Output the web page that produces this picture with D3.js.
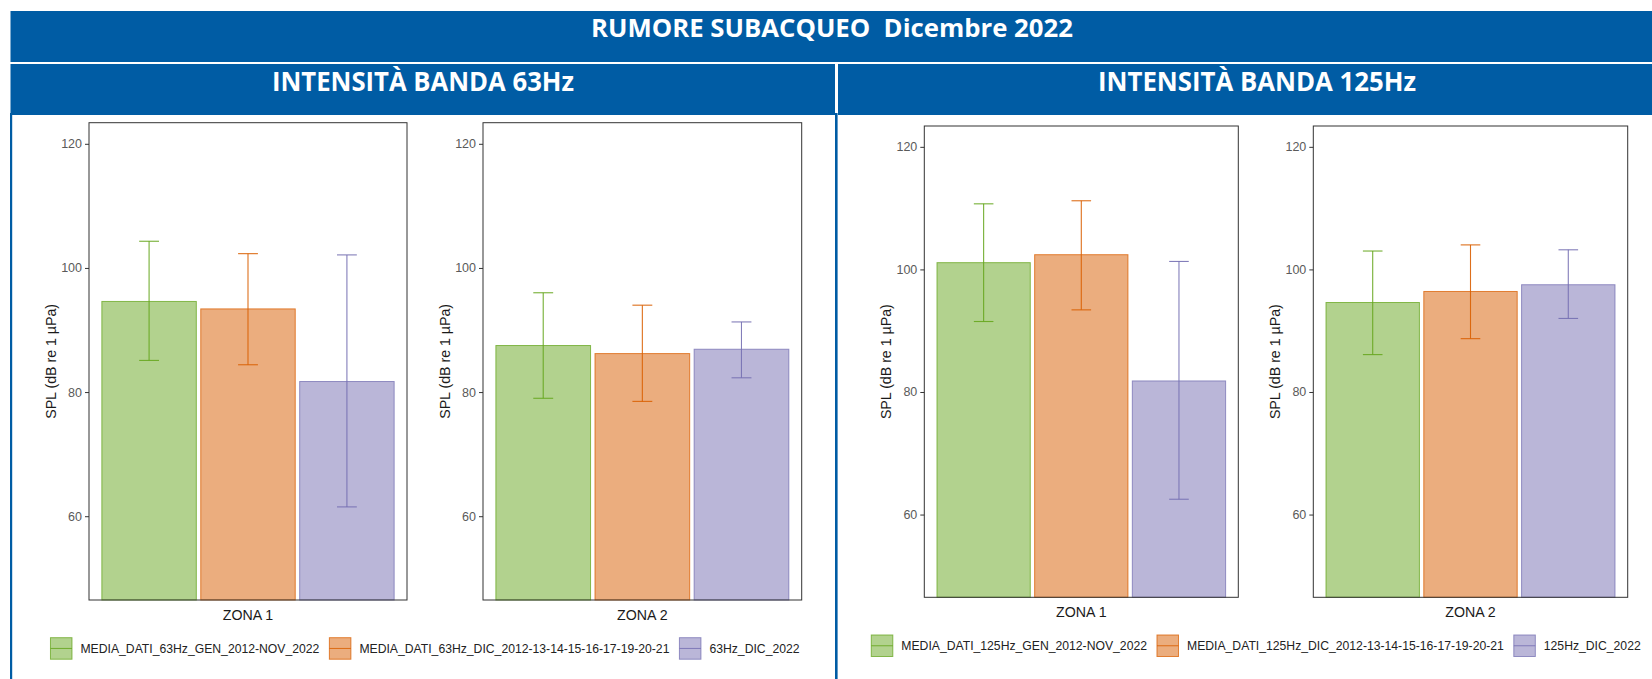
<!DOCTYPE html>
<html>
<head>
<meta charset="utf-8">
<script src="https://cdn.jsdelivr.net/npm/d3@7"></script>
<style>
  body { margin: 0; background: #fff; }
  svg { display: block; }
</style>
</head>
<body>
<svg id="chart" width="1652" height="679"></svg>
<script>
// ---- data ----
const zones = ['ZONA 1', 'ZONA 2'];
const series63 = ['MEDIA_DATI_63Hz_GEN_2012-NOV_2022', 'MEDIA_DATI_63Hz_DIC_2012-13-14-15-16-17-19-20-21', '63Hz_DIC_2022'];
const series125 = ['MEDIA_DATI_125Hz_GEN_2012-NOV_2022', 'MEDIA_DATI_125Hz_DIC_2012-13-14-15-16-17-19-20-21', '125Hz_DIC_2022'];

// mean SPL and error bar limits, one value per series
const mean63Zona1 = [94.6, 93.4, 81.7];
const low63Zona1 = [85.1, 84.4, 61.5];
const high63Zona1 = [104.3, 102.3, 102.1];

const mean63Zona2 = [87.5, 86.2, 86.9];
const low63Zona2 = [79.0, 78.5, 82.3];
const high63Zona2 = [96.0, 94.0, 91.3];

const mean125Zona1 = [101.1, 102.4, 81.8];
const low125Zona1 = [91.5, 93.4, 62.5];
const high125Zona1 = [110.7, 111.2, 101.3];

const mean125Zona2 = [94.6, 96.4, 97.5];
const low125Zona2 = [86.1, 88.7, 92.0];
const high125Zona2 = [103.0, 104.0, 103.2];

const yTicks = [60, 80, 100, 120];
const yDomain = [46.5, 123.4];

const fillColors = ['#b2d28e', '#ebad7e', '#bab6d8'];
const lineColors = ['#66a61e', '#d95f02', '#7570b3'];

const blue = '#005ca4';
const font = '"Liberation Sans", Arial, sans-serif';
const svg = d3.select('#chart');

// ---- banners ----
svg.append('rect').attr('x', 10.5).attr('y', 11).attr('width', 1652 - 10.5).attr('height', 51).attr('fill', blue);
svg.append('rect').attr('x', 10.5).attr('y', 64).attr('width', 835 - 10.5).attr('height', 51).attr('fill', blue);
svg.append('rect').attr('x', 838).attr('y', 64).attr('width', 1652 - 838).attr('height', 51).attr('fill', blue);

// panel side borders
svg.append('rect').attr('x', 10).attr('y', 113).attr('width', 2.2).attr('height', 679 - 113).attr('fill', blue);
svg.append('rect').attr('x', 835).attr('y', 113).attr('width', 2.6).attr('height', 679 - 113).attr('fill', blue);

function bannerText(txt, cx, baseline, size, len) {
    svg.append('text')
        .text(txt)
        .attr('x', cx)
        .attr('y', baseline)
        .attr('text-anchor', 'middle')
        .attr('font-family', '"Open Sans", "DejaVu Sans", sans-serif')
        .attr('font-weight', 'bold')
        .attr('font-size', size)
        .attr('fill', '#fff')
        .attr('textLength', len)
        .attr('lengthAdjust', 'spacingAndGlyphs')
        .style('white-space', 'pre')
}

bannerText('RUMORE SUBACQUEO  Dicembre 2022', 832, 37, 25, 482)
bannerText('INTENSITÀ BANDA 63Hz', 423, 91, 26, 302)
bannerText('INTENSITÀ BANDA 125Hz', 1257, 91, 26, 318)

// ---- plots ----
const panels = [
    { x0: 89, x1: 407, y0: 122.7, y1: 600, zone: zones[0], series: series63, mean: mean63Zona1, low: low63Zona1, high: high63Zona1 },
    { x0: 483, x1: 801.7, y0: 122.7, y1: 600, zone: zones[1], series: series63, mean: mean63Zona2, low: low63Zona2, high: high63Zona2 },
    { x0: 924.3, x1: 1238.3, y0: 126, y1: 597.3, zone: zones[0], series: series125, mean: mean125Zona1, low: low125Zona1, high: high125Zona1 },
    { x0: 1313.3, x1: 1627.7, y0: 126, y1: 597.3, zone: zones[1], series: series125, mean: mean125Zona2, low: low125Zona2, high: high125Zona2 }
];

panels.forEach(p => {
    const w = p.x1 - p.x0;
    const h = p.y1 - p.y0;
    const g = svg.append('g').attr('transform', 'translate(' + p.x0 + ',' + p.y0 + ')');

    const x = d3.scaleBand().domain(p.series).range([0, w]).paddingInner(0.045).paddingOuter(0.13);
    const y = d3.scaleLinear().domain(yDomain).range([h, 0]);

    const rows = p.series.map((s, i) => ({ s, i, mean: p.mean[i], low: p.low[i], high: p.high[i] }));

    g.selectAll('rect.bar')
        .data(rows)
        .join('rect')
        .attr('class', 'bar')
        .attr('x', d => x(d.s))
        .attr('y', d => y(d.mean))
        .attr('width', x.bandwidth())
        .attr('height', d => h - y(d.mean))
        .attr('fill', d => fillColors[d.i])
        .attr('stroke', d => lineColors[d.i])
        .attr('stroke-opacity', 0.75)
        .attr('stroke-width', 1)

    const cap = x.bandwidth() * 0.105;
    const err = g.selectAll('g.err').data(rows).join('g').attr('class', 'err')
        .attr('stroke', d => lineColors[d.i])
        .attr('stroke-opacity', 0.9)
        .attr('stroke-width', 1.1)
    err.append('line')
        .attr('x1', d => x(d.s) + x.bandwidth() / 2).attr('x2', d => x(d.s) + x.bandwidth() / 2)
        .attr('y1', d => y(d.low)).attr('y2', d => y(d.high))
    err.append('line')
        .attr('x1', d => x(d.s) + x.bandwidth() / 2 - cap).attr('x2', d => x(d.s) + x.bandwidth() / 2 + cap)
        .attr('y1', d => y(d.high)).attr('y2', d => y(d.high))
    err.append('line')
        .attr('x1', d => x(d.s) + x.bandwidth() / 2 - cap).attr('x2', d => x(d.s) + x.bandwidth() / 2 + cap)
        .attr('y1', d => y(d.low)).attr('y2', d => y(d.low))

    // y axis
    const yAxis = g.append('g').call(d3.axisLeft(y).tickValues(yTicks).tickSize(4).tickPadding(3))
    yAxis.select('.domain').remove()
    yAxis.selectAll('.tick line').attr('stroke', '#333')
    yAxis.selectAll('.tick text')
        .attr('fill', '#5a5a5a')
        .attr('font-size', 12.5)
        .attr('font-family', font)

    // panel border
    g.append('rect')
        .attr('width', w).attr('height', h)
        .attr('fill', 'none').attr('stroke', '#333').attr('stroke-width', 1)

    g.append('text')
        .text('SPL (dB re 1 µPa)')
        .attr('transform', 'translate(-38,' + (h / 2) + ') rotate(-90)')
        .attr('text-anchor', 'middle')
        .attr('dy', '0.35em')
        .attr('font-size', 14.2)
        .attr('font-family', font)
        .attr('fill', '#1a1a1a')

    g.append('text')
        .text(p.zone)
        .attr('x', w / 2)
        .attr('y', h + 20)
        .attr('text-anchor', 'middle')
        .attr('font-size', 14.2)
        .attr('font-family', font)
        .attr('fill', '#1a1a1a')
});

// ---- legends ----
function drawLegend(series, cx, top) {
    const lg = svg.append('g');
    const key = 21.5;
    let xPos = 0;
    series.forEach((s, i) => {
        const item = lg.append('g').attr('transform', 'translate(' + xPos + ',0)');
        item.append('rect')
            .attr('width', key).attr('height', key)
            .attr('fill', fillColors[i])
            .attr('stroke', lineColors[i]).attr('stroke-opacity', 0.75)
        item.append('line')
            .attr('x1', 0).attr('x2', key).attr('y1', key / 2).attr('y2', key / 2)
            .attr('stroke', lineColors[i]).attr('stroke-opacity', 0.85)
        const t = item.append('text')
            .text(s)
            .attr('x', key + 8.5)
            .attr('y', key / 2)
            .attr('dy', '0.35em')
            .attr('font-size', 12.2)
            .attr('font-family', font)
            .attr('fill', '#222')
        xPos += key + 8.5 + t.node().getComputedTextLength() + 10;
    });
    const total = xPos - 10;
    lg.attr('transform', 'translate(' + (cx - total / 2) + ',' + top + ')');
}

drawLegend(series63, 425, 637.7)
drawLegend(series125, 1256, 635)
</script>
</body>
</html>
